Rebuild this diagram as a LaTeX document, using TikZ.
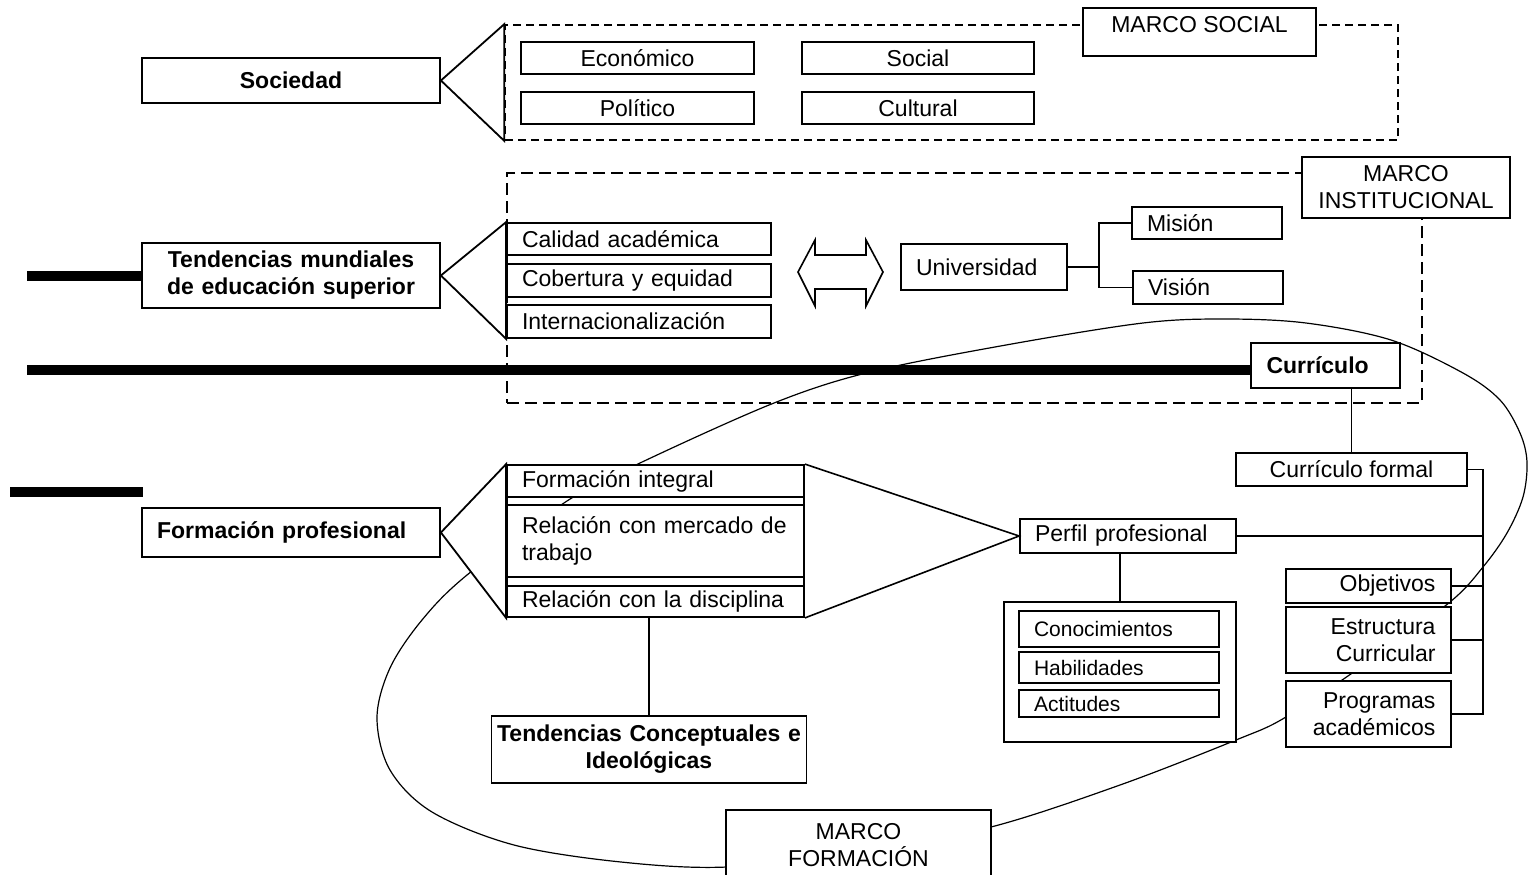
\documentclass[tikz,border=0pt]{standalone}
\usepackage{fontspec}
\setmainfont{Liberation Sans}
\newcommand\fsreg{\fontsize{11.5}{13.5}\selectfont}
\newcommand\fsbold{\fontsize{11.5}{13.5}\selectfont\bfseries}
\newcommand\fssm{\fontsize{10.5}{12.5}\selectfont}
\begin{document}
\begin{tikzpicture}[x=0.5pt,y=-0.5pt,
  bx/.style={draw, fill=white, line width=0.9pt, inner sep=0pt, font=\fsreg},
  thinbx/.style={bx, line width=0.6pt},
  wh/.style 2 args={minimum width=#1, minimum height=#2},
  lt/.style={align=left, text width=#1},
  rt/.style={align=right, text width=#1},
  ct/.style={align=center, text width=#1},
  bold/.style={font=\fsbold},
  small/.style={font=\fssm},
  frameA/.style={draw, line width=0.8pt, dash pattern=on 4pt off 2.5pt, inner sep=0pt},
  frameB/.style={draw, line width=0.7pt, dash pattern=on 6pt off 3pt, inner sep=0pt},
  fan/.style={draw, fill=white, line width=0.9pt, line join=miter},
  ln/.style={draw, line width=0.8pt},
  bar/.style={line width=5pt, line cap=butt},
  loop/.style={line width=0.6pt}
]
\useasboundingbox (0,0) rectangle (1533,874);

% the large closed loop (marco formacion)
\draw[loop] plot[smooth cycle, tension=0.55] coordinates {
 (640,463) (774,403) (870,372) (1006,345) (1143,323) (1225,319) (1306,323)
 (1391,340) (1463,373) (1500,400) (1520,433) (1527,462) (1523,497) (1507,533)
 (1483,567) (1450,602) (1368,662) (1286,717) (1236,740) (1120,785) (991,827)
 (860,852) (727,867) (621,862) (514,845) (432,812) (390,770) (377,718)
 (390,668) (422,620) (467,575) (567,501)};

% dashed frames
\node[frameA, wh={446.5pt}{57.5pt}] (fsoc) at (951.5,82.5) {};
\node[frameB, wh={457.5pt}{115pt}] (finst) at (964.5,288) {};

% marco social
\node[thinbx, wh={116.5pt}{24pt}, text height=12pt, text depth=12pt] (msoc) at (1199.5,32) {MARCO SOCIAL};
\node[bx, wh={116.5pt}{16pt}] (eco) at (637.5,58) {Económico};
\node[bx, wh={116pt}{16pt}] (sol) at (918,58) {Social};
\node[bx, wh={116.5pt}{16pt}] (pol) at (637.5,108) {Político};
\node[bx, wh={116pt}{16pt}] (cul) at (918,108) {Cultural};
\node[bx, bold, wh={149pt}{22.5pt}] (soc) at (291,80.5) {Sociedad};

% marco institucional
\node[bx, wh={104pt}{30.5pt}, ct=100pt] (minst) at (1406,187.5) {MARCO\\INSTITUCIONAL};
\node[bx, bold, wh={149pt}{32.5pt}, ct=146pt] (tend) at (291,275.5) {Tendencias mundiales\\de educación superior};
\node[bx, wh={132pt}{16pt}, lt=117pt] (cal) at (639,239) {Calidad académica};
\node[bx, wh={132pt}{16.5pt}, lt=117pt] (cob) at (639,280.5) {Cobertura y equidad};
\node[bx, wh={132pt}{16.5pt}, lt=117pt] (int) at (639,321.5) {Internacionalización};
\node[bx, wh={83pt}{23pt}, lt=68pt] (univ) at (984,267) {Universidad};
\node[bx, wh={75pt}{16pt}, lt=60pt] (mis) at (1207,223) {Misión};
\node[bx, wh={75pt}{16.5pt}, lt=60pt] (vis) at (1208,287.5) {Visión};
\node[bx, bold, wh={74.5pt}{22.5pt}, lt=59pt] (cur) at (1325.5,365.5) {Currículo};

% double arrow
\draw[line width=0.8pt, line join=miter] (798,272) -- (815,240) -- (815,255) -- (866,255) -- (866,240)
  -- (883,272) -- (866,306) -- (866,289) -- (815,289) -- (815,306) -- cycle;

% curriculo side
\node[bx, wh={115.5pt}{16.5pt}] (cf) at (1351.5,469.5) {Currículo formal};
\node[bx, wh={108pt}{17pt}, lt=93pt] (perf) at (1128,536) {Perfil profesional};
\node[bx, wh={116pt}{70pt}] (grp) at (1120,672) {};
\node[bx, small, line width=0.7pt, wh={100pt}{18pt}, lt=85pt] (con) at (1119,629) {Conocimientos};
\node[bx, small, line width=0.7pt, wh={100pt}{15.5pt}, lt=85pt] (hab) at (1119,667.5) {Habilidades};
\node[bx, small, line width=0.7pt, wh={100pt}{13.5pt}, lt=85pt] (act) at (1119,703.5) {Actitudes};
\node[bx, wh={82.5pt}{17pt}, rt=67pt] (obj) at (1368.5,586) {Objetivos};
\node[bx, wh={82.5pt}{33pt}, rt=67pt] (est) at (1368.5,640) {Estructura\\Curricular};
\node[bx, wh={82.5pt}{33pt}, rt=67pt] (prog) at (1368.5,714) {Programas\\académicos};

% formacion
\node[bx, bold, wh={149pt}{24.5pt}, lt=134pt] (fprof) at (291,532.5) {Formación profesional};
\node[draw, line width=0.9pt, inner sep=0pt, wh={148.5pt}{76pt}] (stack) at (655.5,541) {};
\node[bx, wh={148.5pt}{16pt}, lt=133.5pt] (fi) at (655.5,481) {Formación integral};
\node[bx, wh={148.5pt}{36pt}, lt=133.5pt] (mer) at (655.5,541) {Relación con mercado de\\trabajo};
\node[bx, wh={148.5pt}{15.5pt}, lt=133.5pt] (dis) at (655.5,601.5) {Relación con la disciplina};
\node[bx, bold, wh={157.5pt}{33.5pt}, ct=156pt] (tcon) at (649,749.5) {Tendencias Conceptuales e\\Ideológicas};
\node[thinbx, wh={132.5pt}{35pt}, ct=128pt] (mform) at (858.5,845) {MARCO\\FORMACIÓN};

% fans
\filldraw[fan] (fsoc.north west) -- (soc.east) -- (fsoc.south west) -- cycle;
\filldraw[fan] (cal.north west) -- (tend.east) -- (int.south west) -- cycle;
\filldraw[fan] (fi.north west) -- (fprof.east) -- (dis.south west) -- cycle;
\draw[ln, line join=miter] (stack.north east) -- (perf.west) -- (stack.south east);

% connectors
\coordinate (uj) at (1099,0);
\coordinate (brk) at (1483,0);
\draw[ln] (univ.east) -- (uj |- univ.east);
\draw[ln] (mis.west) -| (uj |- vis.west) -- (vis.west);
\draw[ln] (cf.north) -- (cf.north |- cur.south);
\draw[ln] (grp.north) -- (grp.north |- perf.south);
\draw[ln] (tcon.north) -- (tcon.north |- dis.south);
\draw[ln] (cf.east) -| (brk |- prog.east) -- (prog.east);
\draw[ln] (perf.east) -- (perf.east -| brk);
\draw[ln] (obj.east) -- (obj.east -| brk);
\draw[ln] (est.east) -- (est.east -| brk);

% thick bars
\coordinate (b1) at (27,0);
\coordinate (b2) at (27,370);
\coordinate (b3a) at (10,492);
\coordinate (b3b) at (143,492);
\draw[bar] (tend.west -| b1) -- (tend.west);
\draw[bar] (b2) -- (b2 -| cur.west);
\draw[bar] (b3a) -- (b3b);
\end{tikzpicture}
\end{document}
